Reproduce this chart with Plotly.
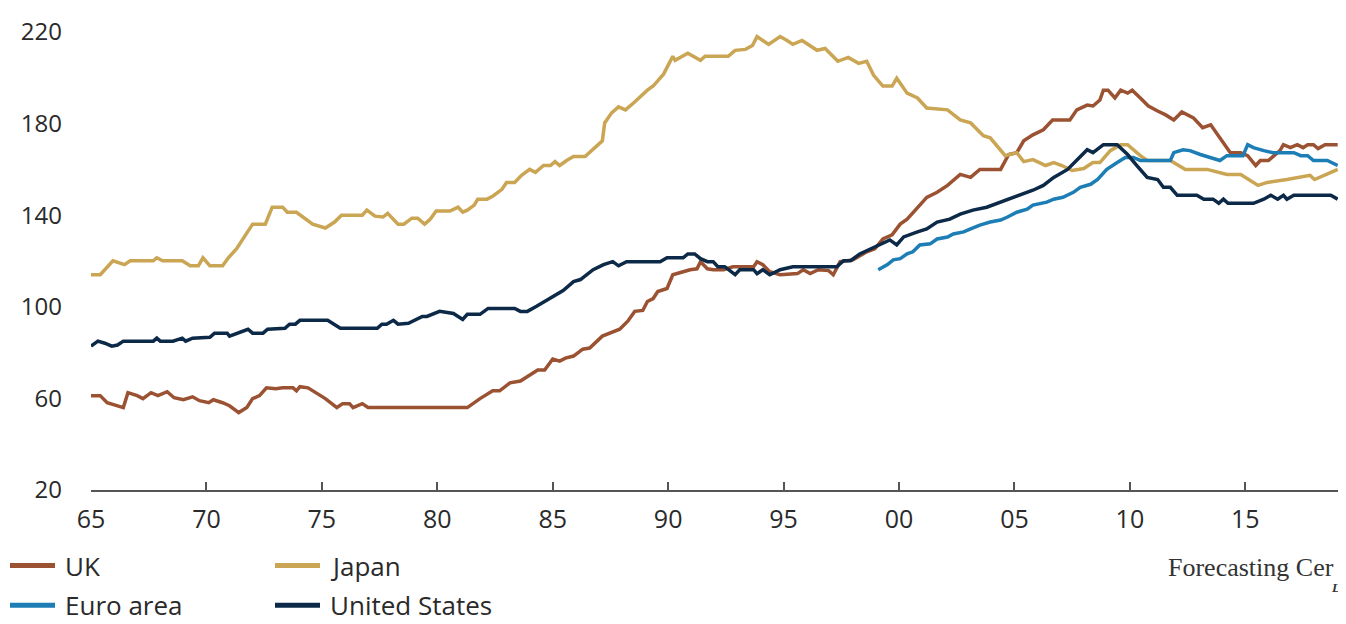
import plotly.graph_objects as go

# ---------------- data (decimal years, index values) ----------------
uk_x = [1965.0, 1965.4, 1965.7, 1966.0, 1966.4, 1966.6, 1967.0, 1967.25, 1967.6, 1967.9,
        1968.3, 1968.6, 1969.0, 1969.4, 1969.7, 1970.1, 1970.3, 1970.7, 1971.0, 1971.4,
        1971.75, 1972.0, 1972.3, 1972.6, 1973.0, 1973.3, 1973.75, 1973.9, 1974.05, 1974.4,
        1974.8, 1975.15, 1975.65, 1975.9, 1976.2, 1976.35, 1976.75, 1977.0, 1981.3, 1981.85,
        1982.4, 1982.7, 1983.15, 1983.6, 1984.35, 1984.65, 1985.0, 1985.3, 1985.55, 1985.9,
        1986.3, 1986.6, 1987.15, 1987.5, 1987.9, 1988.25, 1988.55, 1988.9, 1989.1, 1989.35,
        1989.55, 1989.95, 1990.2, 1990.65, 1990.95, 1991.25, 1991.4, 1991.7, 1991.95, 1992.4,
        1992.8, 1993.7, 1993.85, 1994.1, 1994.4, 1994.85, 1995.6, 1995.85, 1996.15, 1996.5,
        1996.95, 1997.15, 1997.45, 1998.0, 1998.6, 1998.95, 1999.3, 1999.7, 2000.05, 2000.35,
        2000.6, 2000.9, 2001.2, 2001.65, 2002.1, 2002.65, 2003.1, 2003.5, 2004.4, 2004.75,
        2005.1, 2005.4, 2005.8, 2006.25, 2006.65, 2007.4, 2007.7, 2008.15, 2008.4, 2008.7,
        2008.85, 2009.05, 2009.35, 2009.6, 2009.9, 2010.1, 2010.45, 2010.8, 2011.2, 2011.55,
        2011.9, 2012.25, 2012.75, 2013.15, 2013.5, 2013.9, 2014.35, 2014.8, 2015.1, 2015.45,
        2015.65, 2016.0, 2016.5, 2016.65, 2016.95, 2017.25, 2017.5, 2017.7, 2017.95, 2018.15,
        2018.45, 2019.0]
uk_y = [61.2, 61.2, 58.1, 57.3, 56.0, 62.5, 61.2, 59.9, 62.5, 61.2,
        62.9, 60.3, 59.4, 60.7, 59.0, 58.1, 59.4, 58.1, 56.8, 53.8,
        56.0, 59.9, 61.2, 64.6, 64.2, 64.6, 64.6, 63.3, 65.1, 64.6,
        62.0, 59.9, 56.0, 57.7, 57.7, 56.0, 57.7, 56.0, 56.0, 59.9,
        63.3, 63.3, 66.8, 67.6, 72.4, 72.4, 77.2, 76.3, 77.6, 78.5,
        81.5, 82.0, 87.2, 88.5, 90.2, 93.7, 98.0, 98.4, 102.3, 103.6,
        106.7, 108.0, 114.0, 115.3, 116.2, 116.6, 119.7, 116.6, 116.2, 116.2,
        117.5, 117.5, 119.7, 118.4, 115.3, 114.0, 114.5, 116.2, 114.5, 116.2,
        115.8, 114.0, 119.7, 120.5, 124.0, 125.3, 129.6, 131.4, 136.1, 138.3,
        141.3, 144.4, 147.8, 150.0, 153.0, 157.8, 156.5, 160.0, 160.0, 166.5,
        167.3, 172.5, 175.1, 177.3, 181.6, 181.6, 186.0, 188.1, 187.7, 190.3,
        194.6, 194.6, 191.2, 194.6, 193.3, 194.6, 191.2, 187.7, 185.5, 183.8,
        181.6, 185.1, 182.5, 178.2, 179.5, 173.8, 167.3, 167.3, 166.0, 161.7,
        163.9, 163.9, 168.2, 170.8, 169.5, 170.8, 169.5, 170.8, 170.8, 169.1,
        170.8, 170.8]

japan_x = [1965.0, 1965.4, 1965.95, 1966.45, 1966.7, 1967.7, 1967.85, 1968.1, 1968.95, 1969.3,
           1969.65, 1969.85, 1970.15, 1970.7, 1970.95, 1971.3, 1972.0, 1972.55, 1972.85, 1973.3,
           1973.5, 1973.9, 1974.6, 1975.15, 1975.55, 1975.85, 1976.75, 1976.95, 1977.3, 1977.65,
           1977.85, 1978.3, 1978.55, 1978.9, 1979.15, 1979.45, 1979.7, 1979.95, 1980.55, 1980.9,
           1981.1, 1981.3, 1981.6, 1981.75, 1982.15, 1982.4, 1982.8, 1983.0, 1983.35, 1983.65,
           1984.0, 1984.25, 1984.6, 1984.9, 1985.1, 1985.3, 1985.6, 1985.9, 1986.4, 1986.75,
           1987.15, 1987.25, 1987.55, 1987.85, 1988.15, 1988.5, 1989.1, 1989.35, 1989.8, 1990.2,
           1990.3, 1990.85, 1991.4, 1991.6, 1992.6, 1992.9, 1993.35, 1993.65, 1993.85, 1994.35,
           1994.85, 1995.15, 1995.4, 1995.8, 1996.0, 1996.45, 1996.8, 1997.0, 1997.35, 1997.8,
           1998.25, 1998.6, 1998.9, 1999.3, 1999.7, 1999.9, 2000.35, 2000.8, 2001.2, 2002.1,
           2002.65, 2003.1, 2003.65, 2003.95, 2004.6, 2005.1, 2005.4, 2005.8, 2006.35, 2006.7,
           2007.05, 2007.5, 2008.0, 2008.4, 2008.7, 2009.15, 2009.6, 2009.9, 2010.45, 2010.75,
           2011.75, 2012.4, 2013.35, 2014.2, 2014.8, 2015.55, 2015.95, 2016.8, 2017.8, 2018.0,
           2018.7, 2019.0]
japan_y = [114.0, 114.0, 120.1, 118.4, 120.1, 120.1, 121.4, 120.1, 120.1, 117.9,
           117.9, 121.4, 117.9, 117.9, 121.4, 125.3, 136.1, 136.1, 143.5, 143.5,
           141.3, 141.3, 136.1, 134.4, 137.0, 140.0, 140.0, 142.2, 139.6, 139.2,
           140.8, 136.1, 136.1, 138.7, 138.7, 136.1, 138.3, 141.8, 141.8, 143.5,
           141.3, 142.2, 144.4, 147.0, 147.0, 148.3, 151.3, 154.3, 154.3, 157.4,
           160.0, 158.7, 161.7, 161.7, 163.4, 161.7, 163.9, 165.6, 165.6, 168.6,
           172.5, 180.3, 184.7, 187.3, 186.0, 189.0, 194.6, 196.4, 201.6, 209.4,
           207.6, 210.7, 207.6, 209.4, 209.4, 212.0, 212.4, 214.1, 218.0, 214.6,
           218.0, 216.3, 214.6, 216.3, 215.0, 212.0, 212.8, 210.7, 207.2, 208.9,
           206.3, 207.2, 201.1, 196.4, 196.4, 199.8, 193.3, 191.2, 186.8, 186.0,
           181.6, 180.3, 174.7, 173.8, 166.0, 167.3, 163.4, 164.3, 161.7, 163.0,
           161.7, 159.5, 160.4, 163.0, 163.0, 168.2, 170.8, 170.8, 166.0, 163.9,
           163.9, 160.0, 160.0, 157.8, 157.8, 153.0, 154.3, 155.6, 157.4, 155.6,
           158.7, 160.0]

euro_x = [1999.1, 1999.5, 1999.75, 2000.05, 2000.35, 2000.6, 2000.9, 2001.35, 2001.65, 2002.1,
          2002.35, 2002.8, 2003.1, 2003.5, 2003.95, 2004.4, 2004.7, 2005.1, 2005.55, 2005.8,
          2006.4, 2006.7, 2007.1, 2007.55, 2007.85, 2008.3, 2008.6, 2009.0, 2009.45, 2009.8,
          2010.15, 2010.45, 2011.75, 2011.9, 2012.3, 2012.6, 2013.05, 2013.5, 2013.9, 2014.2,
          2014.9, 2015.1, 2015.35, 2015.8, 2016.2, 2017.1, 2017.4, 2017.7, 2017.95, 2018.55,
          2019.0]
euro_y = [116.2, 118.4, 120.5, 121.0, 123.1, 124.0, 127.0, 127.5, 129.6, 130.5,
          131.8, 132.7, 134.0, 135.7, 137.0, 137.9, 139.2, 141.3, 142.6, 144.4,
          145.7, 147.0, 147.8, 150.0, 152.2, 153.5, 155.6, 160.0, 163.0, 165.2,
          165.2, 163.9, 163.9, 167.3, 168.6, 168.2, 166.5, 165.2, 163.9, 166.0,
          166.0, 170.8, 169.5, 168.2, 167.3, 167.3, 166.0, 166.0, 163.9, 163.9,
          161.7]

us_x = [1965.0, 1965.3, 1965.6, 1965.9, 1966.15, 1966.4, 1967.7, 1967.85, 1968.0, 1968.55,
        1968.95, 1969.1, 1969.4, 1970.15, 1970.35, 1970.9, 1971.0, 1971.35, 1971.8, 1972.0,
        1972.45, 1972.65, 1973.4, 1973.6, 1973.85, 1974.05, 1975.25, 1975.8, 1977.4, 1977.6,
        1977.8, 1978.1, 1978.3, 1978.75, 1979.35, 1979.55, 1980.1, 1980.7, 1981.1, 1981.3,
        1981.85, 1982.2, 1983.35, 1983.6, 1983.9, 1984.3, 1984.75, 1985.2, 1985.45, 1985.9,
        1986.2, 1986.75, 1987.2, 1987.6, 1987.85, 1988.2, 1989.65, 1989.95, 1990.65, 1990.85,
        1991.15, 1991.4, 1991.7, 1991.95, 1992.15, 1992.45, 1992.9, 1993.1, 1993.7, 1993.85,
        1994.1, 1994.4, 1994.85, 1995.4, 1997.3, 1997.6, 1997.9, 1998.3, 1998.75, 1999.2,
        1999.6, 1999.9, 2000.2, 2000.8, 2001.2, 2001.65, 2002.2, 2002.65, 2003.2, 2003.8,
        2004.4, 2004.8, 2005.4, 2005.8, 2006.25, 2006.7, 2007.3, 2007.7, 2008.15, 2008.4,
        2008.85, 2009.45, 2009.9, 2010.3, 2010.75, 2011.2, 2011.45, 2011.75, 2012.05, 2012.9,
        2013.2, 2013.6, 2013.85, 2014.05, 2014.25, 2015.35, 2015.8, 2016.1, 2016.4, 2016.65,
        2016.8, 2017.1, 2018.7, 2019.0]
us_y = [82.8, 85.0, 84.1, 82.8, 83.3, 85.0, 85.0, 86.3, 85.0, 85.0,
        86.3, 85.0, 86.3, 86.7, 88.5, 88.5, 87.2, 88.5, 90.2, 88.5,
        88.5, 90.2, 90.6, 92.4, 92.4, 94.1, 94.1, 90.6, 90.6, 92.4,
        92.4, 94.1, 92.4, 92.8, 95.8, 95.8, 98.0, 97.1, 94.5, 96.7,
        96.7, 99.3, 99.3, 98.0, 98.0, 100.2, 102.8, 105.8, 107.1, 111.0,
        111.9, 116.2, 118.4, 119.7, 117.9, 119.7, 119.7, 121.4, 121.4, 123.1,
        123.1, 121.0, 119.7, 119.7, 117.5, 117.5, 114.0, 116.2, 116.2, 114.5,
        116.2, 114.0, 116.2, 117.5, 117.5, 120.1, 120.1, 123.1, 125.3, 127.5,
        129.2, 127.0, 130.5, 132.7, 134.0, 137.0, 138.3, 140.5, 142.2, 143.5,
        145.7, 147.0, 149.1, 150.9, 153.0, 156.5, 160.0, 164.3, 168.6, 167.3,
        170.8, 170.8, 166.5, 161.7, 156.5, 155.6, 152.2, 152.2, 148.7, 148.7,
        147.0, 147.0, 145.2, 147.0, 145.2, 145.2, 147.0, 148.7, 147.0, 148.7,
        147.0, 148.7, 148.7, 147.0]

series_names = ["UK", "Japan", "Euro area", "United States"]
series_colors = ["#9b5232", "#caa553", "#1d7db5", "#0c2a48"]

tick_vals = [1965, 1970, 1975, 1980, 1985, 1990, 1995, 2000, 2005, 2010, 2015]
tick_text = ["65", "70", "75", "80", "85", "90", "95", "00", "05", "10", "15"]
y_ticks = [20, 60, 100, 140, 180, 220]

# ---------------- layout geometry (page pixels) ----------------
OFF = 8                      # default body margin of the html page
VW, VH = 1346, 624           # visible window
W, H = VW - OFF, VH - OFF    # figure size
PLOT_L, PLOT_R, PLOT_T, PLOT_B = 91, 1340, 29, 490   # plot area in page pixels
L, T = PLOT_L - OFF, PLOT_T - OFF
R, B = W - (PLOT_R - OFF), H - (PLOT_B - OFF)
PW, PH = PLOT_R - PLOT_L, PLOT_B - PLOT_T

def px(x):
    return (x - PLOT_L) / PW

def py(y):
    return (PLOT_B - y) / PH

FONT = "Open Sans"
TXT = "#2a2a2a"

fig = go.Figure()
for name, xs, ys, col in zip(series_names,
                             [uk_x, japan_x, euro_x, us_x],
                             [uk_y, japan_y, euro_y, us_y],
                             series_colors):
    fig.add_trace(go.Scatter(x=xs, y=ys, mode="lines", name=name,
                             line=dict(color=col, width=3.5),
                             showlegend=False, hoverinfo="x+y+name"))

# manual legend (2 x 2 grid)
legend_pos = [(10, 566), (275, 566), (10, 606), (275, 606)]
shapes = []
annotations = []
for (lx, ly), name, col in zip(legend_pos, series_names, series_colors):
    shapes.append(dict(type="line", xref="paper", yref="paper",
                       x0=px(lx), x1=px(lx + 45), y0=py(ly), y1=py(ly),
                       line=dict(color=col, width=5)))
    annotations.append(dict(text=name, xref="paper", yref="paper",
                            x=px(lx + 53), y=py(ly), xanchor="left", yanchor="middle",
                            showarrow=False, font=dict(family=FONT, size=26, color=TXT)))

annotations.append(dict(text="Forecasting Cer", xref="paper", yref="paper",
                        x=px(1166), y=py(568), xanchor="left", yanchor="middle",
                        showarrow=False,
                        font=dict(family="Liberation Serif", size=26, color="#333333")))
annotations.append(dict(text="<b><i>L</i></b>", xref="paper", yref="paper",
                        x=px(1329), y=py(588), xanchor="left", yanchor="middle",
                        showarrow=False,
                        font=dict(family="Liberation Serif", size=13, color="#333333")))

fig.update_layout(
    width=W, height=H,
    margin=dict(l=L, r=R, t=T, b=B, pad=0),
    paper_bgcolor="white", plot_bgcolor="white",
    font=dict(family=FONT, size=24, color=TXT),
    shapes=shapes, annotations=annotations,
    showlegend=False,
)
fig.update_xaxes(range=[1965, 2019.1], tickvals=tick_vals, ticktext=tick_text,
                 showgrid=False, zeroline=False, showline=True,
                 linecolor="#555555", linewidth=1.5,
                 ticks="inside", ticklen=8, tickwidth=1.5, tickcolor="#555555",
                 ticklabelstandoff=6,
                 tickfont=dict(family=FONT, size=25, color=TXT))
fig.update_yaxes(range=[20, 220], tickvals=y_ticks,
                 showgrid=False, zeroline=False, showline=False, ticks="",
                 ticklabelstandoff=28,
                 tickfont=dict(family=FONT, size=24, color=TXT))

fig.write_html("out.html")
